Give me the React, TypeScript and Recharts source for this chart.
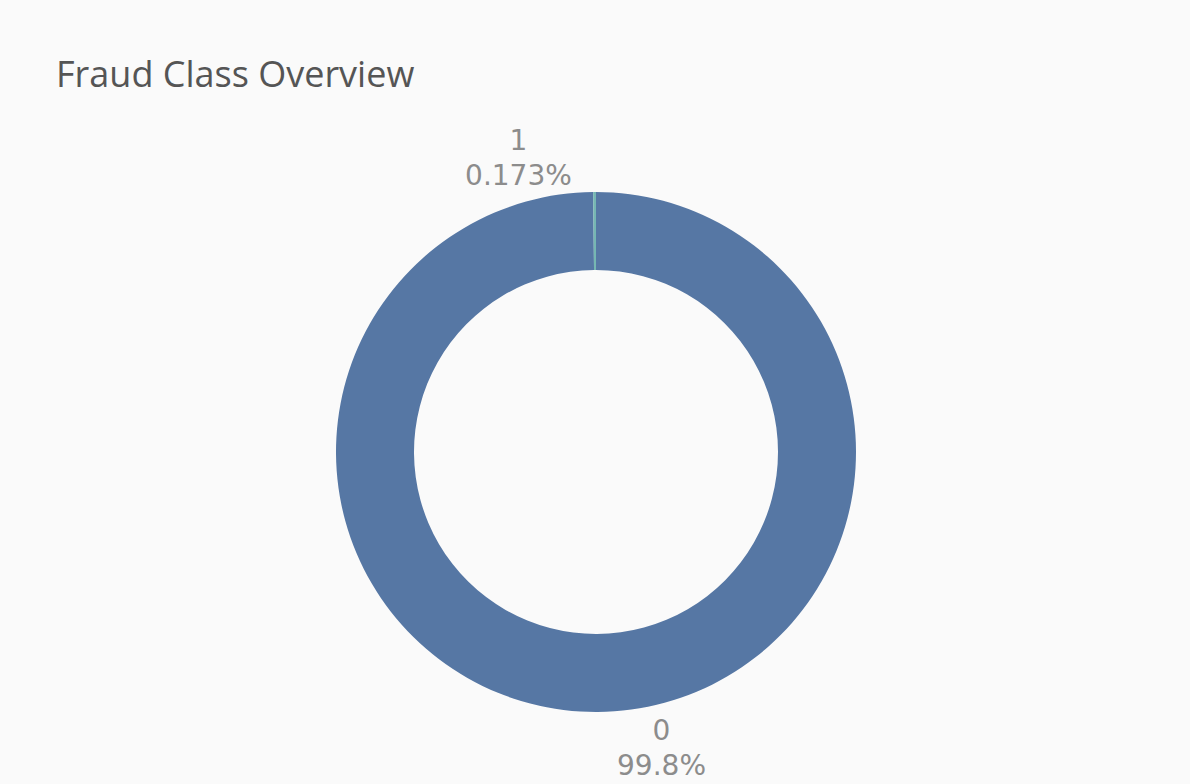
import { PieChart, Pie, Cell } from 'recharts'

const classes = ['0', '1']
const counts = [284315, 492]
const sliceColors = ['#5677a4', '#76b7b2']

const data = classes.map((name, i) => ({ name, value: counts[i] }))
const total = counts.reduce((a, b) => a + b, 0)

function formatPct(value: number) {
    const pct = (value / total) * 100
    return `${Number(pct.toPrecision(3))}%`
}

// plotly-like outside labels, nudged sideways so they don't sit on the hole
const labelShift: Record<string, number> = { '0': 64, '1': -76 }

function renderLabel(props: any) {
    const { cx, cy, midAngle, outerRadius, payload, value } = props
    const rad = (Math.PI / 180) * midAngle
    const x = cx + (outerRadius + 22) * Math.cos(rad) + (labelShift[payload.name] ?? 0)
    const yBase = cy - (outerRadius + 22) * Math.sin(rad)
    const up = Math.sin(rad) > 0
    const y1 = up ? yBase - 20 : yBase + 6
    return (
        <text
            x={x}
            y={y1}
            textAnchor="middle"
            fill="#8c8c8c"
            style={{ fontFamily: '"DejaVu Sans", sans-serif', fontSize: 28 }}
        >
            <tspan x={x}>{payload.name}</tspan>
            <tspan x={x} dy={35}>{formatPct(value)}</tspan>
        </text>
    )
}

export default function App() {
    return (
        <div
            style={{
                position: 'absolute',
                left: 0,
                top: 0,
                width: 1190,
                height: 784,
                background: '#fafafa',
                overflow: 'hidden',
            }}
        >
            <div
                style={{
                    position: 'absolute',
                    left: 56,
                    top: 49,
                    fontFamily: '"Open Sans", sans-serif',
                    fontSize: 36,
                    color: '#555555',
                    whiteSpace: 'nowrap',
                }}
            >
                Fraud Class Overview
            </div>
            <PieChart
                width={1190}
                height={784}
                margin={{ top: 0, right: 0, bottom: 0, left: 0 }}
                style={{ position: 'absolute', left: 0, top: 0 }}
            >
                <Pie
                    data={data}
                    dataKey="value"
                    nameKey="name"
                    cx={596}
                    cy={452}
                    innerRadius={182}
                    outerRadius={260}
                    startAngle={90}
                    endAngle={-270}
                    stroke="none"
                    label={renderLabel}
                    labelLine={false}
                    isAnimationActive={false}
                >
                    {data.map((d, i) => (
                        <Cell key={d.name} fill={sliceColors[i]} />
                    ))}
                </Pie>
            </PieChart>
        </div>
    )
}
